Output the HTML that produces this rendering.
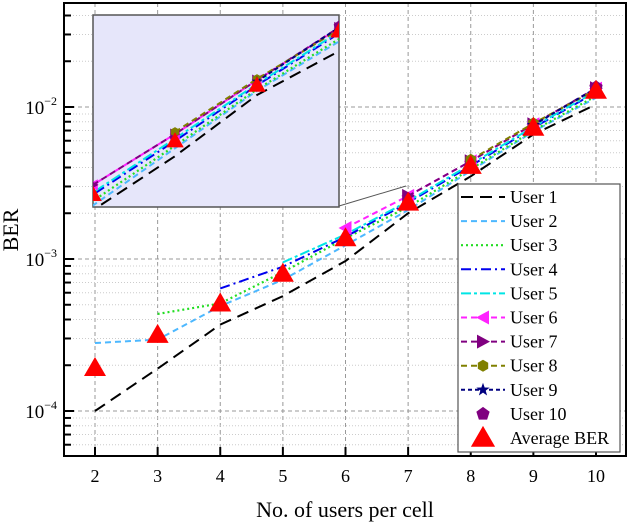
<!DOCTYPE html>
<html><head><meta charset="utf-8"><style>
html,body{margin:0;padding:0;background:#fff}
svg, svg text{font-family:"Liberation Serif","DejaVu Serif","Times New Roman",serif}
</style></head><body>
<svg id="chart" width="630" height="524" viewBox="0 0 630 524" xmlns="http://www.w3.org/2000/svg">
<defs>
<clipPath id="mainClip"><rect x="64" y="3" width="562" height="453"/></clipPath>
<clipPath id="insetClip"><rect x="93" y="15" width="246" height="192"/></clipPath>
</defs>
<rect x="0" y="0" width="630" height="524" fill="#fff"/>
<g id="grid"></g>
<g id="main" clip-path="url(#mainClip)"></g>
<g id="insetG"></g>
<g id="axes"></g>
<g id="legend"></g>
<text x="18" y="230" font-size="22" text-anchor="middle" transform="rotate(-90 18 230)">BER</text>
<text x="345" y="517" font-size="22" text-anchor="middle">No. of users per cell</text>
</svg>
<script>
const xCats = [2,3,4,5,6,7,8,9,10];
const user1 = [1.0e-4,1.9e-4,3.7e-4,5.7e-4,9.7e-4,2.0e-3,3.5e-3,6.6e-3,1.04e-2];
const user2 = [2.8e-4,2.95e-4,4.9e-4,7.3e-4,1.23e-3,2.1e-3,3.8e-3,6.9e-3,1.15e-2];
const user3 = [null,4.35e-4,5.1e-4,8.2e-4,1.37e-3,2.2e-3,3.9e-3,7.0e-3,1.18e-2];
const user4 = [null,null,6.4e-4,8.9e-4,1.4e-3,2.35e-3,4.1e-3,7.3e-3,1.25e-2];
const user5 = [null,null,null,9.5e-4,1.45e-3,2.4e-3,4.2e-3,7.4e-3,1.27e-2];
const user6 = [null,null,null,null,1.6e-3,2.6e-3,4.4e-3,7.7e-3,1.32e-2];
const user7 = [null,null,null,null,null,2.6e-3,4.4e-3,7.7e-3,1.33e-2];
const user8 = [null,null,null,null,null,null,4.5e-3,7.8e-3,1.3e-2];
const user9 = [null,null,null,null,null,null,null,7.6e-3,1.33e-2];
const user10 = [null,null,null,null,null,null,null,null,1.35e-2];
const avgBER = [1.92e-4,3.17e-4,5.1e-4,8.0e-4,1.37e-3,2.35e-3,4.1e-3,7.3e-3,1.28e-2];
const xTicks = ["2","3","4","5","6","7","8","9","10"];
const yDecades = [-4,-3,-2];
const legendLabels = ["User 1","User 2","User 3","User 4","User 5","User 6","User 7","User 8","User 9","User 10","Average BER"];

const NS="http://www.w3.org/2000/svg";
const FONT='"Liberation Serif","DejaVu Serif",serif';
function mk(tag,attrs,parent){const e=document.createElementNS(NS,tag);for(const k in attrs)e.setAttribute(k,attrs[k]);parent.appendChild(e);return e;}
const X0=64,X1=626,Y0=3,Y1=456;
function xs(v){return 95+(v-2)*62.625;}
function ys(v){return 411-152*(Math.log10(v)+4);}
function ixs(v){return 93+(v-7)*82;}
function iys(v){return 15+(-1.82-Math.log10(v))*222;}

const series=[
 {d:user1,c:"#000",w:2,da:"12,7",m:null},
 {d:user2,c:"#4db8ff",w:2,da:"6,4",m:null},
 {d:user3,c:"#22dd22",w:2.2,da:"2,3",m:null},
 {d:user4,c:"#0000ee",w:2,da:"10,4,2,4",m:null},
 {d:user5,c:"#00e5e5",w:2,da:"10,3,3,3",m:null},
 {d:user6,c:"#ff22ff",w:2,da:"6,4",m:"ltri"},
 {d:user7,c:"#800080",w:2,da:"6,4",m:"rtri"},
 {d:user8,c:"#808000",w:2,da:"6,4",m:"hex"},
 {d:user9,c:"#000080",w:2,da:"4,3",m:"star"},
 {d:user10,c:"#800080",w:0,da:"",m:"pent"},
 {d:avgBER,c:"#ff0000",w:0,da:"",m:"tri"}
];
function marker(type,x,y,c,g,s){
 s=s||1;let p;
 if(type==="tri"){p=[[x,y-11*s],[x-11*s,y+8*s],[x+11*s,y+8*s]];}
 else if(type==="ltri"){p=[[x-7*s,y],[x+6*s,y-7*s],[x+6*s,y+7*s]];}
 else if(type==="rtri"){p=[[x+7*s,y],[x-6*s,y-7*s],[x-6*s,y+7*s]];}
 else if(type==="hex"){p=[];for(let i=0;i<6;i++){const a=Math.PI/6+i*Math.PI/3;p.push([x+6*s*Math.cos(a),y+6*s*Math.sin(a)]);}}
 else if(type==="pent"){p=[];for(let i=0;i<5;i++){const a=-Math.PI/2+i*2*Math.PI/5;p.push([x+7*s*Math.cos(a),y+7*s*Math.sin(a)]);}}
 else if(type==="star"){p=[];for(let i=0;i<10;i++){const a=-Math.PI/2+i*Math.PI/5;const r=(i%2?2.8:7)*s;p.push([x+r*Math.cos(a),y+r*Math.sin(a)]);}}
 return mk("polygon",{points:p.map(q=>q.join(",")).join(" "),fill:c},g);
}
function drawSeries(g,fx,fy,ms){
 series.forEach((s,si)=>{
  const pts=[];s.d.forEach((v,i)=>{if(v!=null)pts.push([fx(xCats[i]),fy(v)]);});
  if(s.w>0&&pts.length>1){
   const pl=mk("polyline",{points:pts.map(q=>q.join(",")).join(" "),fill:"none",stroke:s.c,"stroke-width":s.w,"stroke-dasharray":s.da},g);
   
   
  }
  if(s.m){pts.forEach(q=>{const m=marker(s.m,q[0],q[1],s.c,g,ms);
   
   });}
 });
}
const grid=document.getElementById("grid");
const axesG=document.getElementById("axes");
xCats.forEach(v=>{const l=mk("line",{x1:xs(v),x2:xs(v),y1:Y0,y2:Y1,stroke:"#999","stroke-width":1,"stroke-dasharray":"4,3"},grid);
 });
for(let d=-5;d<=-1;d++){for(let k=1;k<10;k++){const y=ys(k*Math.pow(10,d));if(y<Y0||y>Y1)continue;
 const l=mk("line",{x1:X0,x2:X1,y1:y,y2:y,stroke:k===1?"#999":"#ccc","stroke-width":1,"stroke-dasharray":k===1?"4,3":"1,2"},grid);
 
 const t=mk("line",{x1:X0,x2:X0+(k===1?10:7),y1:y,y2:y,stroke:"#000","stroke-width":2},axesG);
 }}
drawSeries(document.getElementById("main"),xs,ys,1);
const ig=document.getElementById("insetG");
const ib=mk("rect",{x:93,y:15,width:246,height:192,fill:"#e6e6fa",stroke:"#555","stroke-width":1.5},ig);

const conn=mk("line",{x1:339,y1:206,x2:406,y2:186,stroke:"#555","stroke-width":1},ig);

const ic=mk("g",{"clip-path":"url(#insetClip)"},ig);
drawSeries(ic,ixs,iys,0.8);
const frame=mk("rect",{x:X0,y:Y0,width:X1-X0,height:Y1-Y0,fill:"none",stroke:"#000","stroke-width":2},axesG);

xCats.forEach((v,i)=>{
 const t=mk("line",{x1:xs(v),x2:xs(v),y1:Y1,y2:Y1-9,stroke:"#000","stroke-width":2},axesG);
 
 const tx=mk("text",{x:xs(v),y:482,"font-size":18,"text-anchor":"middle","font-family":FONT},axesG);tx.textContent=xTicks[i];
 
});
yDecades.forEach(d=>{
 const y=ys(Math.pow(10,d));
 const tx=mk("text",{x:57,y:y+7,"font-size":19,"text-anchor":"end","font-family":FONT},axesG);
 tx.textContent="10";
 const sp=mk("tspan",{dy:-9,"font-size":12},tx);sp.textContent=String(d).replace("-","\u2212");
 
});
const lg=document.getElementById("legend");
const lb=mk("rect",{x:458,y:184,width:162,height:268,fill:"#fff",stroke:"#555","stroke-width":1.2},lg);

series.forEach((s,i)=>{
 const y=197+i*24.1;
 const g=mk("g",{},lg);
 
 if(s.w>0)mk("line",{x1:461,x2:505,y1:y,y2:y,stroke:s.c,"stroke-width":s.w,"stroke-dasharray":s.da},g);
 if(s.m)marker(s.m,483,y,s.c,g,s.m==="tri"?1.1:1);
 const t=mk("text",{x:510,y:y+6,"font-size":18,"font-family":FONT},g);t.textContent=legendLabels[i];
});
</script>
</body></html>
